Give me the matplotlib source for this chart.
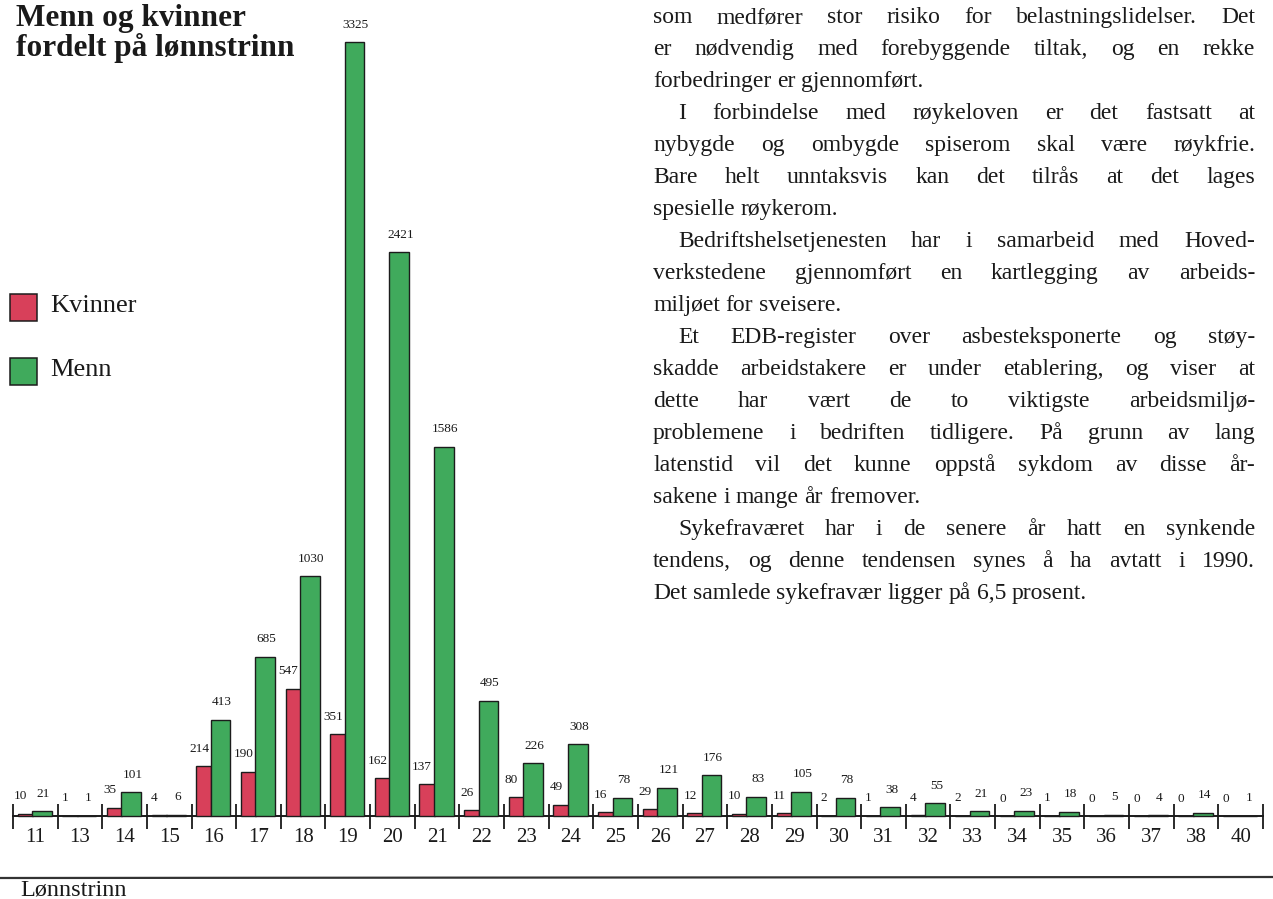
import matplotlib
matplotlib.use('Agg')
import numpy as np
import matplotlib.pyplot as plt
from matplotlib.patches import Rectangle
from matplotlib.lines import Line2D

# ---------------- data ----------------
categories = ['11', '13', '14', '15', '16', '17', '18', '19', '20', '21', '22', '23', '24',
              '25', '26', '27', '28', '29', '30', '31', '32', '33', '34', '35', '36', '37',
              '38', '40']
kvinner = [10, 1, 35, 4, 214, 190, 547, 351, 162, 137, 26, 80, 49,
           16, 29, 12, 10, 11, 2, 1, 4, 2, 0, 1, 0, 0, 0, 0]
menn = [21, 1, 101, 6, 413, 685, 1030, 3325, 2421, 1586, 495, 226, 308,
        78, 121, 176, 83, 105, 78, 38, 55, 21, 23, 18, 5, 4, 14, 1]
series_names = ['Kvinner', 'Menn']
title_lines = ['Menn og kvinner', 'fordelt på lønnstrinn']
xlabel = 'Lønnstrinn'

body_lines = [
    ('som medfører stor risiko for belastningslidelser. Det', False, True),
    ('er nødvendig med forebyggende tiltak, og en rekke', False, True),
    ('forbedringer er gjennomført.', False, False),
    ('I forbindelse med røykeloven er det fastsatt at', True, True),
    ('nybygde og ombygde spiserom skal være røykfrie.', False, True),
    ('Bare helt unntaksvis kan det tilrås at det lages', False, True),
    ('spesielle røykerom.', False, False),
    ('Bedriftshelsetjenesten har i samarbeid med Hoved-', True, True),
    ('verkstedene gjennomført en kartlegging av arbeids-', False, True),
    ('miljøet for sveisere.', False, False),
    ('Et EDB-register over asbesteksponerte og støy-', True, True),
    ('skadde arbeidstakere er under etablering, og viser at', False, True),
    ('dette har vært de to viktigste arbeidsmiljø-', False, True),
    ('problemene i bedriften tidligere. På grunn av lang', False, True),
    ('latenstid vil det kunne oppstå sykdom av disse år-', False, True),
    ('sakene i mange år fremover.', False, False),
    ('Sykefraværet har i de senere år hatt en synkende', True, True),
    ('tendens, og denne tendensen synes å ha avtatt i 1990.', False, True),
    ('Det samlede sykefravær ligger på 6,5 prosent.', False, False),
]

# ---------------- style ----------------
W, H = 1273, 899
RED = '#d8405a'
GREEN = '#40aa5c'
EDGE = '#1c1c1c'
INK = '#1a1a1a'
SERIF = ['Liberation Serif', 'DejaVu Serif']
plt.rcParams['font.family'] = SERIF

fig = plt.figure(figsize=(W / 100, H / 100), dpi=100)
fig.patch.set_facecolor('white')


def fx(x):
    return x / W


def fy(y):
    return 1 - y / H


# ---------------- chart axes ----------------
left_px, right_px = 13, 1263
base_px, top_px = 816, 42
vmax = max(max(menn), max(kvinner))
scale = (base_px - top_px) / vmax  # pixels per unit
ax = fig.add_axes([fx(left_px), 0, (right_px - left_px) / W, 1])
n = len(categories)
x = np.arange(n)
ax.set_xlim(-0.5, n - 0.5)
ax.set_ylim(-(H - base_px) / scale, base_px / scale)
ax.patch.set_alpha(0)
for s in ['top', 'left', 'right']:
    ax.spines[s].set_visible(False)
ax.spines['bottom'].set_position(('data', 0))
ax.spines['bottom'].set_linewidth(1.4)
ax.spines['bottom'].set_color(INK)
ax.set_yticks([])
ax.set_xticks(x)
ax.set_xticklabels(categories, fontsize=15, color=INK)
ax.set_xticks(np.arange(-0.5, n, 1), minor=True)
ax.tick_params(axis='x', which='major', length=0, pad=9)
ax.tick_params(axis='x', which='minor', direction='inout', length=18, width=1.3, color=INK)

# bar geometry (fraction of a category cell)
red_off, red_w = -0.225, 0.34
green_off, green_w = 0.15, 0.44
b1 = ax.bar(x + red_off, kvinner, red_w, color=RED, edgecolor=EDGE, linewidth=1.0, zorder=3)
b2 = ax.bar(x + green_off, menn, green_w, color=GREEN, edgecolor=EDGE, linewidth=1.0, zorder=4)
for rect, v in zip(b1, kvinner):
    ax.annotate(str(v), (rect.get_x() + rect.get_width() / 2, rect.get_height()),
                xytext=(-3.5, 12.5), textcoords='offset points', ha='center', va='center',
                fontsize=9.5, color=INK)
for rect, v in zip(b2, menn):
    ax.annotate(str(v), (rect.get_x() + rect.get_width() / 2, rect.get_height()),
                xytext=(1, 12.5), textcoords='offset points', ha='center', va='center',
                fontsize=9.5, color=INK)

# ---------------- title, legend, xlabel ----------------
fig.text(fx(16), fy(26), title_lines[0], fontsize=22.5, fontweight='bold', color=INK, va='baseline')
fig.text(fx(16), fy(56), title_lines[1], fontsize=22.5, fontweight='bold', color=INK, va='baseline')

for i, (name, col) in enumerate(zip(series_names, [RED, GREEN])):
    y0 = 294 + i * 64
    fig.patches.append(Rectangle((fx(10), fy(y0 + 27)), 27 / W, 27 / H,
                                 transform=fig.transFigure, facecolor=col,
                                 edgecolor=EDGE, linewidth=1.1))
    fig.text(fx(50), fy(y0 + 18), name, fontsize=19, color=INK, va='baseline')

fig.lines.append(Line2D([0, 1], [fy(878), fy(877)], transform=fig.transFigure,
                        color='#333333', linewidth=1.6))
fig.text(fx(20), fy(896), xlabel, fontsize=17.5, color=INK, va='baseline')

# ---------------- body text (justified) ----------------
renderer = fig.canvas.get_renderer()
text_left, text_right = 653, 1255
indent = 25
body_fs = 17
probe1 = fig.text(0, 0, 'a a', fontsize=body_fs)
probe2 = fig.text(0, 0, 'aa', fontsize=body_fs)
space_w = probe1.get_window_extent(renderer).width - probe2.get_window_extent(renderer).width
probe1.remove()
probe2.remove()
for k, (line, ind, just) in enumerate(body_lines):
    base_y = 23 + 32 * k
    x0 = text_left + (indent if ind else 0)
    words = line.split(' ')
    arts, widths = [], []
    for w in words:
        t = fig.text(0, 0, w, fontsize=body_fs, color=INK, va='baseline')
        widths.append(t.get_window_extent(renderer).width)
        arts.append(t)
    if just and len(words) > 1:
        gap = (text_right - x0 - sum(widths)) / (len(words) - 1)
    else:
        gap = space_w
    cx = x0
    for t, wd in zip(arts, widths):
        t.set_position((fx(cx), fy(base_y)))
        cx += wd + gap

fig.savefig('out.png', dpi=100, facecolor='white')
